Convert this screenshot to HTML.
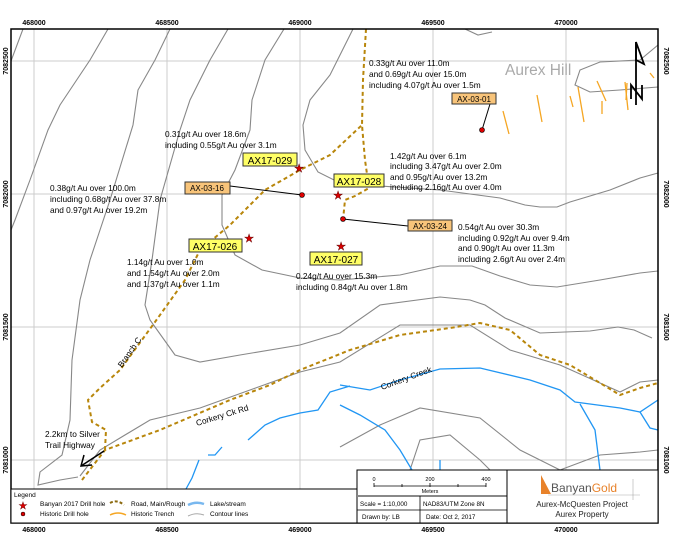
<!DOCTYPE html>
<html><head><meta charset="utf-8"><style>
html,body{margin:0;padding:0;background:#fff}
svg{display:block}
text{font-family:"Liberation Sans",sans-serif}
</style></head><body>
<svg width="700" height="534" viewBox="0 0 700 534" xmlns="http://www.w3.org/2000/svg">
<rect width="700" height="534" fill="#fff"/>
<g stroke="#ccc" stroke-width="1">
<line x1="34" y1="29" x2="34" y2="523"/><line x1="167" y1="29" x2="167" y2="523"/><line x1="300" y1="29" x2="300" y2="523"/><line x1="433" y1="29" x2="433" y2="523"/><line x1="566" y1="29" x2="566" y2="523"/>
<line x1="11" y1="61" x2="658" y2="61"/><line x1="11" y1="194" x2="658" y2="194"/><line x1="11" y1="327" x2="658" y2="327"/><line x1="11" y1="460" x2="658" y2="460"/>
</g>
<g fill="none" stroke="#888" stroke-width="1.1">
<path d="M23,29 L11,61"/>
<path d="M108,29 L90,60 L60,105 L48,130 L30,180 L15,220 L11,230"/>
<path d="M170,29 L155,60 L138,90 L133,125 L110,200 L90,260 L80,300 L72,360 L70,420 L62,455 L40,472 L38,485 L60,480 L78,477"/>
<path d="M228,29 L210,60 L190,100 L180,130 L160,200 L152,260 L145,305 L150,320 L175,355 L200,362 L240,355 L300,345 L340,333 L380,305 L440,297 L470,300 L485,305 L505,318 L540,333 L590,331 L618,327 L634,330 L652,338"/>
<path d="M284,29 L265,60 L252,100 L250,130 L235,170 L222,195 L222,225 L235,255 L262,270 L300,278 L340,280 L400,275 L440,266 L472,266 L500,276 L530,285 L557,287 L600,280 L640,273 L658,271"/>
<path d="M353,29 L340,55 L330,75 L310,100 L303,125 L305,150 L318,172 L340,183 L380,186 L440,190 L500,198 L525,205 L540,207 L557,207 L570,202 L610,190 L640,178 L658,173"/>
<path d="M80,476 L100,450 L150,420 L200,408 L250,390 L300,372 L340,362 L400,325 L470,325 L510,350 L560,365 L620,392 L640,382 L658,380"/>
<path d="M340,447 L380,425 L420,408 L480,418 L520,450 L560,470"/>
<path d="M410,470 L420,440 L450,435 L480,460 L490,470"/>
<path d="M560,470 L600,455 L640,452 L658,450"/>
<path d="M658,45 L640,60 L600,62 L580,70 L575,85 L590,92 L620,90 L658,87"/>
<path d="M465,29 L478,35 L492,32"/>
</g>
<g fill="none" stroke="#2196f3" stroke-width="1.3">
<path d="M340,385 L370,390 L400,380 L440,369 L480,368 L530,380 L560,390 L575,402 L590,404 L620,408 L640,412 L658,400"/>
<path d="M580,404 L595,430 L600,470 L602,489"/>
<path d="M640,412 L650,428 L658,430"/>
<path d="M340,405 L360,415 L385,430 L400,450 L418,480 L425,489"/>
<path d="M350,386 L330,392 L318,410 L300,413 L280,418 L265,425 L248,440"/>
<path d="M222,447 L215,455 L208,455"/>
<path d="M199,460 L192,478 L186,489"/>
<path d="M440,460 L440,489"/>
</g>
<g stroke="#f5a623" stroke-width="1.3">
<line x1="503" y1="111" x2="509" y2="134"/><line x1="537" y1="95" x2="542" y2="122"/><line x1="570" y1="96" x2="573" y2="107"/>
<line x1="578" y1="87" x2="584" y2="122"/><line x1="597" y1="81" x2="606" y2="101"/><line x1="602" y1="101" x2="602" y2="114"/>
<line x1="625" y1="82" x2="628" y2="110"/><line x1="650" y1="73" x2="654" y2="78"/><line x1="627" y1="83" x2="626" y2="100"/>
</g>
<g fill="none" stroke="#b8860b" stroke-width="2" stroke-dasharray="4,3">
<path d="M82,480 L105,450 L160,430 L230,400 L270,385 L300,370 L350,350 L400,335 L450,328 L480,323 L510,330 L540,355 L570,365 L620,395 L640,388 L658,383"/>
<path d="M105,450 L106,430 L92,422 L88,400 L100,388 L120,370 L155,322 L185,280 L200,250 L230,225 L265,190 L300,170 L330,155 L362,125"/>
<path d="M366,29 L363,80 L362,125 L365,160 L369,188 L355,196 L345,200 L343,220"/>
</g>
<g stroke="#000" stroke-width="1">
<line x1="230" y1="186" x2="302" y2="195"/><line x1="408" y1="226" x2="343" y2="219"/><line x1="490" y1="104" x2="482" y2="130"/>
</g>
<g fill="#d00" stroke="#000" stroke-width="0.6">
<circle cx="302" cy="195" r="2.5"/><circle cx="343" cy="219" r="2.5"/><circle cx="482" cy="130" r="2.5"/>
</g>
<g fill="#d00" stroke="#600" stroke-width="0.5" font-size="11">
<text x="299" y="172" text-anchor="middle">★</text><text x="338" y="199" text-anchor="middle">★</text><text x="249" y="242" text-anchor="middle">★</text><text x="341" y="250" text-anchor="middle">★</text>
</g>
<g stroke="#333" stroke-width="1">
<rect x="243" y="153" width="54" height="13" fill="#ffff66"/>
<rect x="334" y="174" width="50" height="13" fill="#ffff66"/>
<rect x="189" y="239" width="53" height="13" fill="#ffff66"/>
<rect x="310" y="252" width="52" height="13" fill="#ffff66"/>
<rect x="185" y="182" width="45" height="12" fill="#f8c47a"/>
<rect x="408" y="220" width="44" height="11" fill="#f8c47a"/>
<rect x="452" y="93" width="44" height="11" fill="#f8c47a"/>
</g>
<g font-size="10" text-anchor="middle">
<text x="270" y="164">AX17-029</text><text x="359" y="185">AX17-028</text><text x="215" y="250">AX17-026</text><text x="336" y="263">AX17-027</text>
</g>
<g font-size="8" text-anchor="middle">
<text x="207" y="191">AX-03-16</text><text x="430" y="229">AX-03-24</text><text x="474" y="102">AX-03-01</text>
</g>
<g font-size="8.3">
<text x="369" y="66">0.33g/t Au over 11.0m</text><text x="369" y="77">and 0.69g/t Au over 15.0m</text><text x="369" y="88">including 4.07g/t Au over 1.5m</text>
<text x="165" y="137">0.31g/t Au over 18.6m</text><text x="165" y="148">including 0.55g/t Au over 3.1m</text>
<text x="390" y="159">1.42g/t Au over 6.1m</text><text x="390" y="169">including 3.47g/t Au over 2.0m</text><text x="390" y="180">and 0.95g/t Au over 13.2m</text><text x="390" y="190">including 2.16g/t Au over 4.0m</text>
<text x="50" y="191">0.38g/t Au over 100.0m</text><text x="50" y="202">including 0.68g/t Au over 37.8m</text><text x="50" y="213">and 0.97g/t Au over 19.2m</text>
<text x="458" y="230">0.54g/t Au over 30.3m</text><text x="458" y="241">including 0.92g/t Au over 9.4m</text><text x="458" y="251">and 0.90g/t Au over 11.3m</text><text x="458" y="262">including 2.6g/t Au over 2.4m</text>
<text x="127" y="265">1.14g/t Au over 1.0m</text><text x="127" y="276">and 1.54g/t Au over 2.0m</text><text x="127" y="287">and 1.37g/t Au over 1.1m</text>
<text x="296" y="279">0.24g/t Au over 15.3m</text><text x="296" y="290">including 0.84g/t Au over 1.8m</text>
<text x="45" y="437">2.2km to Silver</text><text x="45" y="448">Trail Highway</text>
<text transform="translate(122,368) rotate(-55)">Branch C</text>
<text transform="translate(197,426) rotate(-17)">Corkery Ck Rd</text>
<text transform="translate(382,390) rotate(-20)">Corkery Creek</text>
</g>
<text x="505" y="75" font-size="15.5" fill="#aaa">Aurex Hill</text>
<g stroke="#000" stroke-width="1.5" fill="none">
<line x1="104" y1="451" x2="81" y2="466"/><path d="M84,455 L81,466 L92,465"/>
</g>
<g stroke="#000" stroke-width="1.8" fill="none">
<path d="M636,42 L644,64 L636,60 Z"/><line x1="636" y1="42" x2="636" y2="105"/>
<path d="M631,99 L631,85 L642,99 L642,85"/>
</g>
<rect x="11" y="29" width="647" height="494" fill="none" stroke="#000" stroke-width="1.5"/>
<g font-size="7" font-weight="bold" text-anchor="middle">
<text x="34" y="25">468000</text><text x="167" y="25">468500</text><text x="300" y="25">469000</text><text x="433" y="25">469500</text><text x="566" y="25">470000</text>
<text x="34" y="532">468000</text><text x="167" y="532">468500</text><text x="300" y="532">469000</text><text x="433" y="532">469500</text><text x="566" y="532">470000</text>
<text transform="translate(8,61) rotate(-90)">7082500</text><text transform="translate(8,194) rotate(-90)">7082000</text><text transform="translate(8,327) rotate(-90)">7081500</text><text transform="translate(8,460) rotate(-90)">7081000</text>
<text transform="translate(664,61) rotate(90)">7082500</text><text transform="translate(664,194) rotate(90)">7082000</text><text transform="translate(664,327) rotate(90)">7081500</text><text transform="translate(664,460) rotate(90)">7081000</text>
</g>
<rect x="11" y="489" width="346" height="34" fill="#fff" stroke="#000" stroke-width="1"/>
<g font-size="6.5">
<text x="14" y="497">Legend</text>
<text x="40" y="506">Banyan 2017 Drill hole</text><text x="40" y="516">Historic Drill hole</text>
<text x="131" y="506">Road, Main/Rough</text><text x="131" y="516">Historic Trench</text>
<text x="210" y="506">Lake/stream</text><text x="210" y="516">Contour lines</text>
</g>
<text x="23" y="509" font-size="10" fill="#d00" text-anchor="middle" stroke="#600" stroke-width="0.4">★</text>
<circle cx="23" cy="514" r="2" fill="#d00" stroke="#000" stroke-width="0.5"/>
<path d="M110,503 Q117,499 124,505" fill="none" stroke="#8b6a10" stroke-width="2" stroke-dasharray="3,2"/>
<path d="M110,515 Q118,511 126,515" fill="none" stroke="#f5a623" stroke-width="1.5"/>
<path d="M188,505 Q196,501 204,504" fill="none" stroke="#79b8ef" stroke-width="2.5"/>
<path d="M188,516 Q196,512 204,515" fill="none" stroke="#aaa" stroke-width="1"/>
<rect x="357" y="470" width="150" height="53" fill="#fff" stroke="#000" stroke-width="1"/>
<line x1="357" y1="496" x2="507" y2="496" stroke="#888" stroke-width="2"/>
<line x1="357" y1="510" x2="507" y2="510" stroke="#000" stroke-width="0.8"/>
<line x1="420" y1="496" x2="420" y2="523" stroke="#000" stroke-width="0.8"/>
<g stroke="#000" stroke-width="0.8"><line x1="374" y1="486" x2="486" y2="486"/><line x1="374" y1="483" x2="374" y2="487"/><line x1="402" y1="484" x2="402" y2="487"/><line x1="430" y1="483" x2="430" y2="487"/><line x1="458" y1="484" x2="458" y2="487"/><line x1="486" y1="483" x2="486" y2="487"/></g>
<g font-size="5.5" text-anchor="middle"><text x="374" y="481">0</text><text x="430" y="481">200</text><text x="486" y="481">400</text><text x="430" y="493">Meters</text></g>
<g font-size="6.3"><text x="360" y="506">Scale = 1:10,000</text><text x="423" y="506">NAD83/UTM Zone 8N</text><text x="362" y="519">Drawn by: LB</text><text x="426" y="519">Date: Oct 2, 2017</text></g>
<rect x="507" y="470" width="151" height="53" fill="#fff" stroke="#000" stroke-width="1"/>
<path d="M541,475 L541,494 L551,494 Z" fill="#e8822a"/>
<text x="551" y="492" font-size="12"><tspan fill="#555">Banyan</tspan><tspan fill="#e8822a">Gold</tspan></text>
<line x1="548" y1="495" x2="640" y2="495" stroke="#aaa" stroke-width="0.6"/><line x1="633" y1="479" x2="633" y2="500" stroke="#aaa" stroke-width="0.6"/>
<g font-size="8" text-anchor="middle" fill="#222"><text x="582" y="507">Aurex-McQuesten Project</text><text x="582" y="517">Aurex Property</text></g>
</svg>
</body></html>
